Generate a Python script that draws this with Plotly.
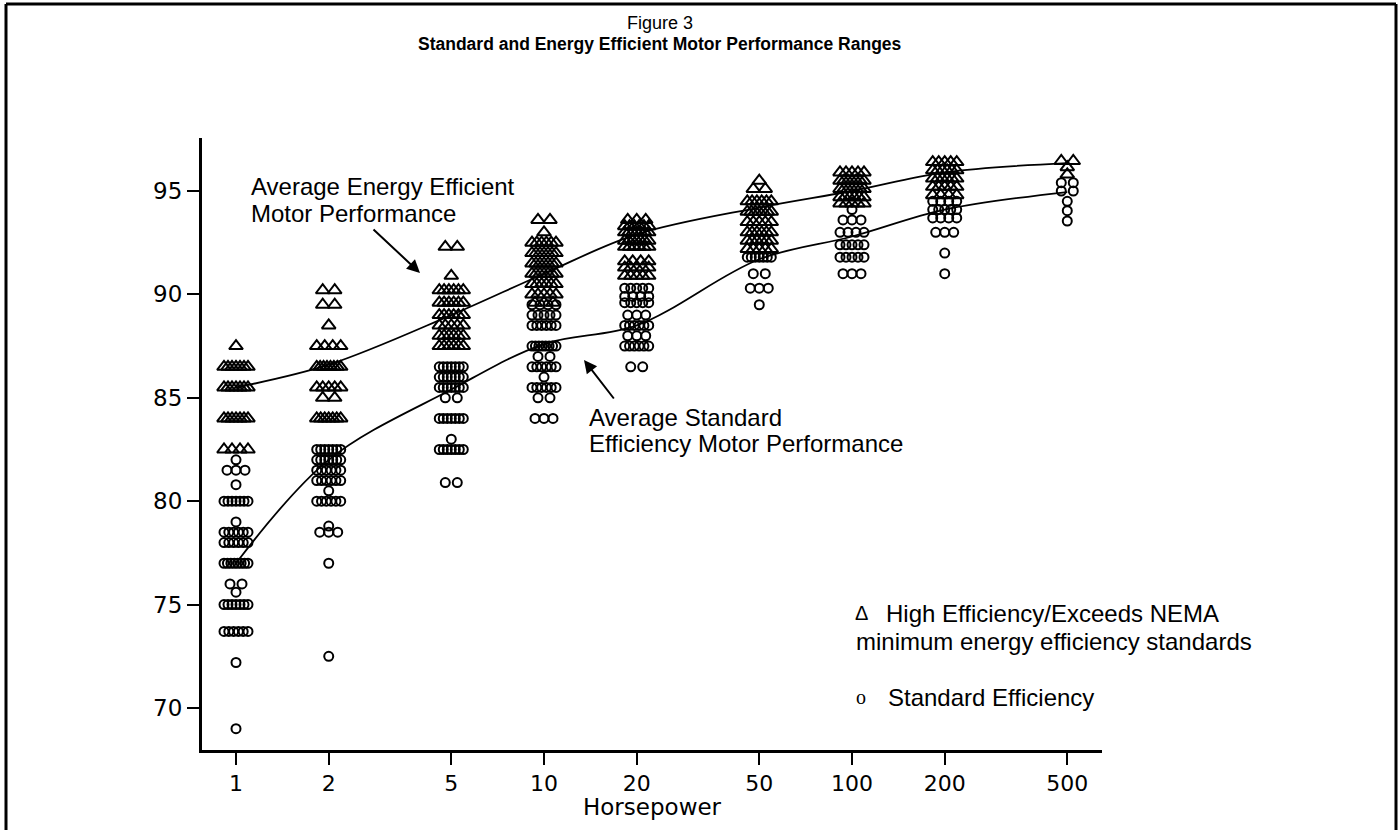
import numpy as np
import plotly.graph_objects as go

# ---------------- data ----------------
hp_ratings = [1, 2, 5, 10, 20, 50, 100, 200, 500]
hp_tick_labels = ["1", "2", "5", "10", "20", "50", "100", "200", "500"]
eff_ticks = [70, 75, 80, 85, 90, 95]

# (efficiency %, number of motors at that value) for each horsepower rating
high_eff_1 = [(87.5, 1), (86.5, 7), (85.5, 7), (84.0, 7), (82.5, 4)]
high_eff_2 = [(90.2, 2), (89.5, 2), (88.5, 1), (87.5, 4), (86.5, 8), (85.5, 5), (85.0, 2), (84.0, 7)]
high_eff_5 = [(92.3, 2), (90.9, 1), (90.2, 6), (89.6, 6), (89.0, 6), (88.5, 5), (88.0, 6), (87.5, 6)]
high_eff_10 = [(93.6, 2), (93.0, 1), (92.5, 6), (92.0, 7), (91.5, 7), (91.0, 7), (90.5, 6), (90.0, 5), (89.6, 3)]
high_eff_20 = [(93.6, 3), (93.3, 6), (93.0, 7), (92.6, 7), (92.3, 6), (91.6, 4), (91.3, 5), (90.9, 5)]
high_eff_50 = [(95.5, 1), (95.1, 2), (94.5, 6), (94.0, 7), (93.5, 5), (93.0, 6), (92.6, 6), (92.2, 5)]
high_eff_100 = [(95.9, 5), (95.5, 7), (95.1, 7), (94.7, 6), (94.4, 5)]
high_eff_200 = [(96.4, 5), (96.0, 6), (95.6, 6), (95.2, 5), (94.8, 4)]
high_eff_500 = [(96.45, 2), (96.15, 1), (95.8, 1)]

std_eff_1 = [(82.0, 1), (81.5, 3), (80.8, 1), (80.0, 7), (79.0, 1), (78.5, 6), (78.0, 6), (77.0, 8),
             (76.0, 2), (75.6, 1), (75.0, 7), (73.7, 6), (72.2, 1), (69.0, 1)]
std_eff_2 = [(82.5, 7), (82.0, 7), (81.5, 6), (81.0, 6), (80.5, 1), (80.0, 6), (78.8, 1), (78.5, 3),
             (77.0, 1), (72.5, 1)]
std_eff_5 = [(86.5, 7), (86.0, 7), (85.5, 7), (85.0, 2), (84.0, 7), (83.0, 1), (82.5, 7), (80.9, 2)]
std_eff_10 = [(89.5, 4), (89.0, 5), (88.5, 6), (87.5, 8), (87.0, 2), (86.5, 6), (86.0, 1), (85.5, 6),
              (85.0, 2), (84.0, 3)]
std_eff_20 = [(90.3, 5), (89.9, 4), (89.6, 5), (89.0, 3), (88.5, 6), (88.0, 3), (87.5, 6), (86.5, 2)]
std_eff_50 = [(91.8, 7), (91.0, 2), (90.3, 3), (89.5, 1)]
std_eff_100 = [(94.1, 1), (93.6, 3), (93.0, 4), (92.4, 5), (91.8, 5), (91.0, 3)]
std_eff_200 = [(94.5, 4), (94.1, 5), (93.7, 4), (93.0, 3), (92.0, 1), (91.0, 1)]
std_eff_500 = [(95.4, 2), (95.0, 2), (94.5, 1), (94.05, 1), (93.55, 1)]

high_eff_groups = [high_eff_1, high_eff_2, high_eff_5, high_eff_10, high_eff_20,
                   high_eff_50, high_eff_100, high_eff_200, high_eff_500]
std_eff_groups = [std_eff_1, std_eff_2, std_eff_5, std_eff_10, std_eff_20,
                  std_eff_50, std_eff_100, std_eff_200, std_eff_500]

avg_energy_efficient = [85.5, 86.6, 89.0, 91.0, 92.9, 94.2, 95.0, 95.9, 96.35]
avg_standard = [77.0, 82.0, 85.4, 87.6, 88.5, 91.7, 92.8, 94.1, 94.95]

# ---------------- layout geometry ----------------
W, H = 1399, 830
ML, MR, MT, MB = 202, 297, 138, 80
PW, PH = W - ML - MR, H - MT - MB
PX_PER_DECADE = 308.0


def px(xp):
    return (xp - ML) / PW


def py(yp):
    return (H - MB - yp) / PH


def spread(groups):
    """Place repeated readings side by side around their rating (log axis)."""
    xs, ys = [], []
    for hp, rows in zip(hp_ratings, groups):
        for eff, n in rows:
            if n == 1:
                offs = [0.0]
            else:
                span = min(24.0, 6.0 + 6.0 * (n - 1))
                offs = np.linspace(-span / 2, span / 2, n)
            for o in offs:
                xs.append(hp * 10 ** (o / PX_PER_DECADE))
                ys.append(eff)
    return xs, ys


hx, hy = spread(high_eff_groups)
sx, sy = spread(std_eff_groups)

fig = go.Figure()
fig.add_trace(go.Scatter(
    x=sx, y=sy, mode="markers", name="Standard Efficiency",
    marker=dict(symbol="circle-open", size=9, color="black", line=dict(width=2, color="black")),
))
fig.add_trace(go.Scatter(
    x=hx, y=hy, mode="markers", name="High Efficiency",
    marker=dict(symbol="triangle-up-open", size=12, color="black", line=dict(width=2, color="black")),
))
fig.add_trace(go.Scatter(
    x=hp_ratings, y=avg_energy_efficient, mode="lines",
    line=dict(color="black", width=1.8, shape="spline", smoothing=1.0),
))
fig.add_trace(go.Scatter(
    x=hp_ratings, y=avg_standard, mode="lines",
    line=dict(color="black", width=1.8, shape="spline", smoothing=1.0),
))

SANS = "Liberation Sans, Arial, sans-serif"
TICKF = "DejaVu Sans, Verdana, sans-serif"

annotations = []


def text(x, y, s, size=24, family=SANS, xanchor="left", color="black"):
    annotations.append(dict(x=px(x), y=py(y), xref="paper", yref="paper", text=s,
                            showarrow=False, xanchor=xanchor, yanchor="middle",
                            font=dict(family=family, size=size, color=color)))


# title
text(660, 23, "Figure 3", size=18, xanchor="center")
text(660, 44, "<b>Standard and Energy Efficient Motor Performance Ranges</b>", size=17.5,
     xanchor="center")

# callouts
text(249, 186, "Average Energy Efficient")
text(249, 213, "Motor Performance")
text(587, 417, "Average Standard")
text(587, 443, "Efficiency Motor Performance")

# legend text
text(853, 613, "Δ", size=20)
text(884, 613, "High Efficiency/Exceeds NEMA")
text(854, 641, "minimum energy efficiency standards")
text(854, 697, "o", size=20, family="Liberation Serif, Times New Roman, serif")
text(886, 697, "Standard Efficiency")

# axis title
text(652, 807, "Horsepower", size=23, family=TICKF, xanchor="center")

# arrows
annotations.append(dict(x=px(420), y=py(273), xref="paper", yref="paper", text="",
                        showarrow=True, ax=-48, ay=-45, axref="pixel", ayref="pixel",
                        arrowhead=2, arrowsize=1.3, arrowwidth=2, arrowcolor="black"))
annotations.append(dict(x=px(584), y=py(360), xref="paper", yref="paper", text="",
                        showarrow=True, ax=31, ay=40, axref="pixel", ayref="pixel",
                        arrowhead=2, arrowsize=1.3, arrowwidth=2, arrowcolor="black"))

shapes = [
    # outer frame of the figure page
    dict(type="line", xref="paper", yref="paper", x0=px(6), x1=px(6), y0=py(4), y1=py(835),
         line=dict(color="black", width=3)),
    dict(type="line", xref="paper", yref="paper", x0=px(6), x1=px(1396), y0=py(4), y1=py(4),
         line=dict(color="black", width=3)),
    dict(type="line", xref="paper", yref="paper", x0=px(1396), x1=px(1396), y0=py(4), y1=py(835),
         line=dict(color="black", width=3)),
]

x_lo = (ML - 236) / PX_PER_DECADE
x_hi = (ML + PW - 236) / PX_PER_DECADE
y_per = 20.68
y_lo = 70 - (H - MB - 708) / y_per
y_hi = 95 + (191 - MT) / y_per

fig.update_layout(
    width=W, height=H,
    margin=dict(l=ML, r=MR, t=MT, b=MB, autoexpand=False),
    plot_bgcolor="white", paper_bgcolor="white",
    showlegend=False,
    annotations=annotations,
    shapes=shapes,
    xaxis=dict(type="log", range=[x_lo, x_hi], tickmode="array", tickvals=hp_ratings,
               ticktext=hp_tick_labels, ticks="outside", ticklen=12, tickwidth=2,
               tickcolor="black", showline=True, linecolor="black", linewidth=3,
               showgrid=False, zeroline=False,
               tickfont=dict(family=TICKF, size=22, color="black")),
    yaxis=dict(range=[y_lo, y_hi], tickmode="array", tickvals=eff_ticks,
               ticks="outside", ticklen=12, tickwidth=2, tickcolor="black",
               showline=True, linecolor="black", linewidth=3, showgrid=False, zeroline=False,
               tickfont=dict(family=TICKF, size=23, color="black")),
)

fig.write_html("out.html")
